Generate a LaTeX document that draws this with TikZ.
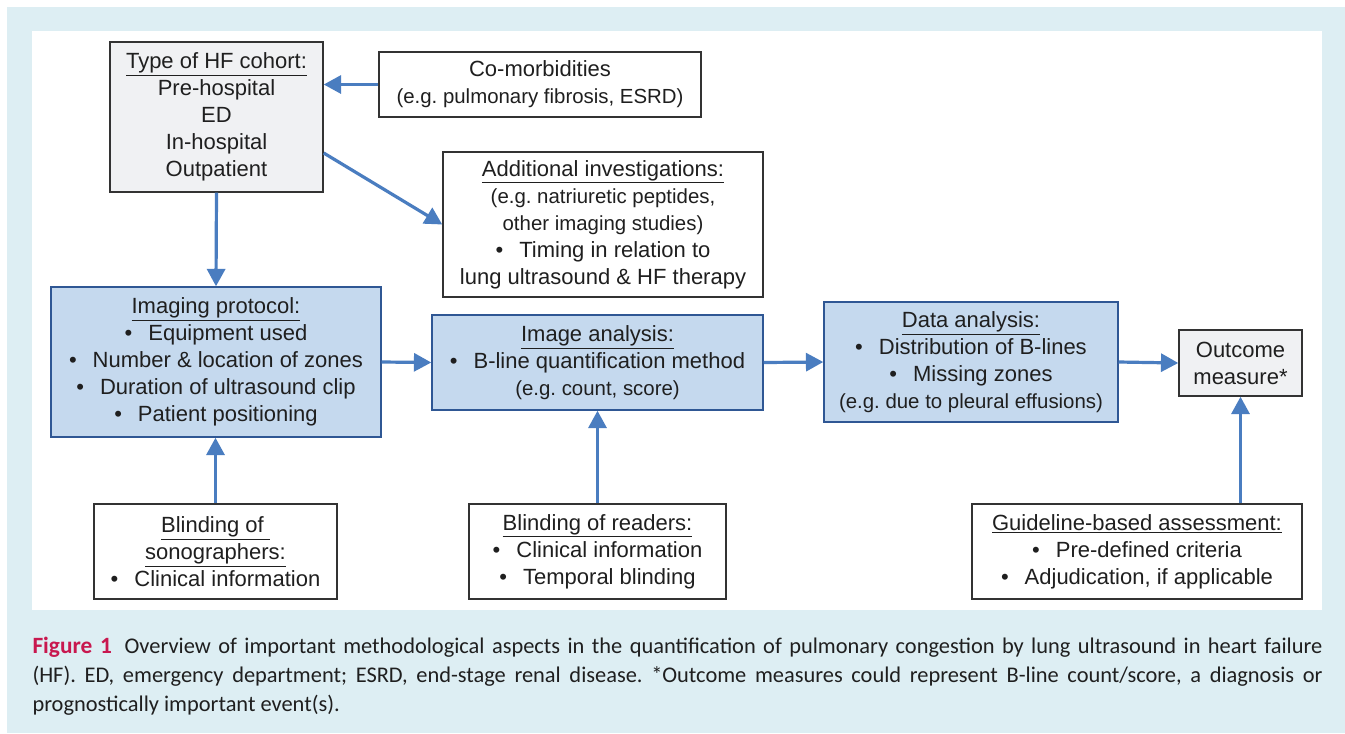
\documentclass[tikz,border=0pt]{standalone}
\usepackage{fontspec}
\setmainfont{Liberation Sans}
\newfontfamily\capfont{Carlito}
\usetikzlibrary{arrows.meta}

\definecolor{panelblue}{RGB}{221,238,243}
\definecolor{boxblue}{RGB}{197,217,238}
\definecolor{edgeblue}{RGB}{47,87,148}
\definecolor{arrowblue}{RGB}{74,125,192}
\definecolor{boxgray}{RGB}{240,241,243}
\definecolor{edgegray}{RGB}{51,51,51}
\definecolor{figred}{RGB}{200,24,79}

\newcommand{\itm}{\textbullet\hspace{12pt}}
\newcommand{\eg}{\fontsize{15.3}{18}\selectfont}

\tikzset{every picture/.style={line width=0.75pt},
	basebox/.style={draw=edgegray, line width=1.1pt, inner sep=0pt, align=center, font=\fontsize{16.5}{20.25}\selectfont, text=black!88},
	whitebox/.style={basebox, fill=white},
	graybox/.style={basebox, fill=boxgray},
	bluebox/.style={basebox, fill=boxblue, draw=edgeblue},
	flow/.style={draw=arrowblue, line width=2.4pt, -{Triangle[length=13pt,width=13.5pt]}}
}

\begin{document}
\frenchspacing
\begin{tikzpicture}[x=0.75pt,y=0.75pt,yscale=-1,xscale=1]
	\useasboundingbox (0,0) rectangle (1345,733);
	
	%Shape: Rectangle [panel]
	\fill[panelblue] (7,7) rectangle (1345,733);
	\fill[white] (32,31) rectangle (1322,610);
	
	% Box Node
	\node[graybox, minimum width=159.75pt, minimum height=112.5pt] (cohort) at (216.5,117) {\underline{Type of HF cohort:}\\Pre-hospital\\ED\\In-hospital\\Outpatient};
	% Box Node
	\node[whitebox, minimum width=241.5pt, minimum height=48.75pt] (comorb) at (540,84.5) {Co-morbidities\\{\eg (e.g. pulmonary fibrosis, ESRD)}};
	% Box Node
	\node[whitebox, minimum width=240pt, minimum height=108.75pt] (addinv) at (603,224.5) {\underline{Additional investigations:}\\{\eg (e.g. natriuretic peptides,}\\{\eg other imaging studies)}\\\itm Timing in relation to\\lung ultrasound \& HF therapy};
	% Box Node
	\node[bluebox, minimum width=247.5pt, minimum height=112.5pt] (imaging) at (216,362) {\underline{Imaging protocol:}\\\itm Equipment used\\\itm Number \& location of zones\\\itm Duration of ultrasound clip\\\itm Patient positioning};
	% Box Node
	\node[bluebox, minimum width=248.25pt, minimum height=71.25pt] (imganal) at (597.5,362.5) {\underline{Image analysis:}\\\itm B-line quantification method\\{\eg (e.g. count, score)}};
	% Box Node
	\node[bluebox, minimum width=220.5pt, minimum height=90pt] (datanal) at (971,362) {\underline{Data analysis:}\\\itm Distribution of B-lines\\\itm Missing zones\\{\eg (e.g. due to pleural effusions)}};
	% Box Node
	\node[graybox, minimum width=92.25pt, minimum height=49.5pt] (outcome) at (1240.5,363) {Outcome\\measure*};
	% Box Node
	\node[whitebox, minimum width=182.25pt, minimum height=71.25pt] (sono) at (215.5,551.5) {\underline{Blinding of\ }\\\underline{sonographers:}\\\itm Clinical information};
	% Box Node
	\node[whitebox, minimum width=192.75pt, minimum height=71.25pt] (readers) at (597.5,551.5) {\underline{Blinding of readers:}\\\itm Clinical information\\\itm Temporal blinding};
	% Box Node
	\node[whitebox, minimum width=247.5pt, minimum height=71.25pt] (guide) at (1137,551.5) {\underline{Guideline-based assessment:}\\\itm Pre-defined criteria\\\itm Adjudication, if applicable};
	
	%Straight Lines [arrows]
	\draw[flow] (comorb.west) -- (comorb.west -| cohort.east);
	\draw[flow] ([yshift=27pt]cohort.east) -- (addinv.west);
	\draw[flow] (cohort.south) -- (imaging.north);
	\draw[flow] (imaging.east) -- (imganal.west);
	\draw[flow] (imganal.east) -- (datanal.west);
	\draw[flow] (datanal.east) -- (outcome.west);
	\draw[flow] (sono.north) -- (sono.north |- imaging.south);
	\draw[flow] (readers.north) -- (imganal.south);
	\draw[flow] (outcome.south |- guide.north) -- (outcome.south);
	
	% Text Node
	\node[anchor=north west, inner sep=0pt, text width=967.5pt, align=justify, font=\capfont\fontsize{16.8}{21.75}\selectfont, text=black!88] (caption) at (32,637) {{\color{figred}\bfseries\fontsize{17.5}{21.75}\selectfont Figure 1}\hspace{4pt} Overview of important methodological aspects in the quantification of pulmonary congestion by lung ultrasound in heart failure\linebreak (HF). ED, emergency department; ESRD, end-stage renal disease. *Outcome measures could represent B-line count/score, a diagnosis or\linebreak prognostically important event(s).};
	
\end{tikzpicture}
\end{document}
